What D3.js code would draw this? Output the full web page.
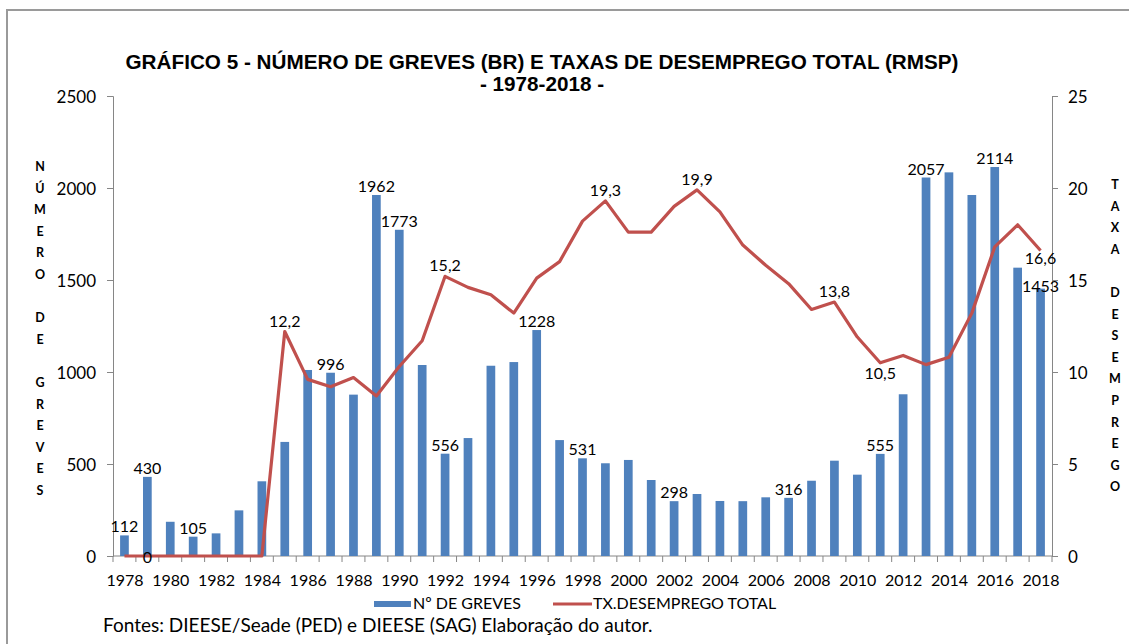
<!DOCTYPE html>
<meta charset="utf-8">
<head>
  <script src="https://d3js.org/d3.v7.min.js"></script>
</head>
<style>

body {
  margin: 0;
  background: #fff;
}

.axis text {
  font-family: Lato, sans-serif;
  font-size: 16px;
  fill: #000;
}

.axis--left text,
.axis--right text {
  font-size: 17px;
}

.axis path,
.axis line {
  stroke: #868686;
}

.data-label {
  font-family: Lato, sans-serif;
  font-size: 16px;
  fill: #000;
  text-anchor: middle;
}

.chart-title {
  font-family: "Liberation Sans", Arial, sans-serif;
  font-weight: bold;
  font-size: 20.7px;
  text-anchor: middle;
}

.side-letter {
  font-family: Lato, sans-serif;
  font-weight: bold;
  font-size: 12.5px;
  text-anchor: middle;
}

.legend-text {
  font-family: Lato, sans-serif;
  font-size: 16px;
}

.footer {
  font-family: Lato, sans-serif;
  font-size: 19px;
}

</style>

<body>
<svg width="1129" height="644" id="container"></svg>
<script>

var years = [1978, 1979, 1980, 1981, 1982, 1983, 1984, 1985, 1986, 1987,
             1988, 1989, 1990, 1991, 1992, 1993, 1994, 1995, 1996, 1997,
             1998, 1999, 2000, 2001, 2002, 2003, 2004, 2005, 2006, 2007,
             2008, 2009, 2010, 2011, 2012, 2013, 2014, 2015, 2016, 2017, 2018];

// número de greves (BR)
var greves = [112, 430, 186, 105, 123, 248, 406, 620, 1011, 996,
              877, 1962, 1773, 1038, 556, 641, 1034, 1054, 1228, 630,
              531, 504, 522, 413, 298, 337, 299, 298, 319, 316,
              409, 518, 442, 555, 879, 2057, 2085, 1962, 2114, 1567, 1453];

// taxa de desemprego total (RMSP)
var desemprego = [0, 0, 0, 0, 0, 0, 0, 12.2, 9.6, 9.2,
                  9.7, 8.7, 10.3, 11.7, 15.2, 14.6, 14.2, 13.2, 15.1, 16.0,
                  18.2, 19.3, 17.6, 17.6, 19.0, 19.9, 18.7, 16.9, 15.8, 14.8,
                  13.4, 13.8, 11.9, 10.5, 10.9, 10.4, 10.8, 13.2, 16.8, 18.0, 16.6];

var xTickYears = [1978, 1980, 1982, 1984, 1986, 1988, 1990, 1992, 1994, 1996, 1998,
                  2000, 2002, 2004, 2006, 2008, 2010, 2012, 2014, 2016, 2018];
var leftTicks = [0, 500, 1000, 1500, 2000, 2500];
var rightTicks = [0, 5, 10, 15, 20, 25];

var barLabelYears = [1978, 1979, 1981, 1987, 1989, 1990, 1992, 1996, 1998,
                     2002, 2007, 2011, 2013, 2016, 2018];
var lineLabelsAbove = [1985, 1992, 1999, 2003, 2009];
var lineLabelsBelow = [2011, 2018];
var lineLabelsOn = [1979];

var titleLines = ["GRÁFICO 5 - NÚMERO DE GREVES (BR) E TAXAS DE DESEMPREGO TOTAL (RMSP)",
                  "- 1978-2018 -"];
var leftAxisTitle = "NÚMERO DE GREVES";
var rightAxisTitle = "TAXA DESEMPREGO";
var legendLabels = ["Nº DE GREVES", "TX.DESEMPREGO TOTAL"];
var footerText = "Fontes: DIEESE/Seade (PED) e DIEESE (SAG) Elaboração do autor.";

var svg = d3.select('#container');

var plot = {left: 113, right: 1052, top: 96, bottom: 556};

var data = years.map(function(y, i) {
  return {year: y, greves: greves[i], taxa: desemprego[i]};
});

// bars sit in the middle of each category, ticks go between categories
var xBar = d3.scaleBand()
             .domain(years)
             .range([plot.left, plot.right])
             .paddingInner(0.62)
             .paddingOuter(0.31);
var xEdge = d3.scaleBand()
              .domain(years)
              .range([plot.left, plot.right]);
var xCenter = function(y) { return xEdge(y) + xEdge.bandwidth() / 2; };

var yLeft = d3.scaleLinear().domain([0, 2500]).range([plot.bottom, plot.top]);
var yRight = d3.scaleLinear().domain([0, 25]).range([plot.bottom, plot.top]);

// outer frame
svg.append('path')
   .attr('d', 'M7,644 V10 H1129')
   .attr('fill', 'none')
   .attr('stroke', '#9a9a9a')
   .attr('stroke-width', 2);

// title
svg.selectAll('.chart-title')
   .data(titleLines)
   .enter()
   .append('text')
   .attr('class', 'chart-title')
   .attr('x', 542)
   .attr('y', function(d, i) { return 69 + i * 22; })
   .text(function(d) { return d; });

// axes
svg.append('g')
   .attr('class', 'axis axis--left')
   .attr('transform', 'translate(' + plot.left + ',0)')
   .call(d3.axisLeft(yLeft).tickValues(leftTicks).tickFormat(d3.format('d'))
           .tickSize(6).tickPadding(11));

svg.append('g')
   .attr('class', 'axis axis--right')
   .attr('transform', 'translate(' + plot.right + ',0)')
   .call(d3.axisRight(yRight).tickValues(rightTicks).tickSize(6).tickPadding(10));

svg.selectAll('.axis--left text, .axis--right text').attr('dy', '0.36em');

// x axis line and the category ticks
var xAxis = svg.append('g').attr('class', 'axis axis--x');
xAxis.append('line')
     .attr('x1', plot.left)
     .attr('x2', plot.right)
     .attr('y1', plot.bottom)
     .attr('y2', plot.bottom);
xAxis.selectAll('.cat-tick')
     .data(years.concat(['end']))
     .enter()
     .append('line')
     .attr('class', 'cat-tick')
     .attr('x1', function(d) { return d === 'end' ? plot.right : xEdge(d); })
     .attr('x2', function(d) { return d === 'end' ? plot.right : xEdge(d); })
     .attr('y1', plot.bottom)
     .attr('y2', plot.bottom + 6);

svg.append('g')
   .attr('class', 'axis axis--xlabels')
   .attr('transform', 'translate(0,' + plot.bottom + ')')
   .call(d3.axisBottom(d3.scalePoint().domain(years).range([xCenter(1978), xCenter(2018)]))
           .tickValues(xTickYears).tickSize(0).tickPadding(19))
   .select('.domain').remove();

// bars
svg.selectAll('.bar')
   .data(data)
   .enter()
   .append('rect')
   .attr('class', 'bar')
   .attr('x', function(d) { return xBar(d.year); })
   .attr('width', xBar.bandwidth())
   .attr('y', function(d) { return yLeft(d.greves); })
   .attr('height', function(d) { return plot.bottom - yLeft(d.greves); })
   .attr('fill', '#4f81bd');

// unemployment line
var line = d3.line()
             .x(function(d) { return xCenter(d.year); })
             .y(function(d) { return yRight(d.taxa); });

svg.append('path')
   .datum(data)
   .attr('d', line)
   .attr('fill', 'none')
   .attr('stroke', '#c0504d')
   .attr('stroke-width', 3.2)
   .attr('stroke-linejoin', 'round');

// bar labels
var barNudge = {2018: 6};
svg.selectAll('.bar-label')
   .data(data.filter(function(d) { return barLabelYears.indexOf(d.year) > -1; }))
   .enter()
   .append('text')
   .attr('class', 'data-label bar-label')
   .attr('x', function(d) { return xCenter(d.year); })
   .attr('y', function(d) { return yLeft(d.greves) - 3 + (barNudge[d.year] || 0); })
   .text(function(d) { return d.greves; });

// line labels
var fmt = function(v) { return String(v).replace('.', ','); };
function lineLabelOffset(year) {
  if (lineLabelsAbove.indexOf(year) > -1) return -5;
  if (lineLabelsOn.indexOf(year) > -1) return 7;
  return year === 2018 ? 13 : 16;
}
svg.selectAll('.line-label')
   .data(data.filter(function(d) {
     return lineLabelsAbove.concat(lineLabelsBelow, lineLabelsOn).indexOf(d.year) > -1;
   }))
   .enter()
   .append('text')
   .attr('class', 'data-label line-label')
   .attr('x', function(d) { return xCenter(d.year); })
   .attr('y', function(d) { return yRight(d.taxa) + lineLabelOffset(d.year); })
   .text(function(d) { return fmt(d.taxa); });

// stacked side titles
function sideTitle(text, x, yStart) {
  svg.append('g')
     .selectAll('text')
     .data(text.split(''))
     .enter()
     .append('text')
     .attr('class', 'side-letter')
     .attr('x', x)
     .attr('y', function(d, i) { return yStart + i * 21.6; })
     .text(function(d) { return d; });
}
sideTitle(leftAxisTitle, 40, 171);
sideTitle(rightAxisTitle, 1115, 189);

// legend
var legend = svg.append('g').attr('class', 'legend');
legend.append('rect')
      .attr('x', 374).attr('y', 601)
      .attr('width', 37).attr('height', 6)
      .attr('fill', '#4f81bd');
legend.append('text')
      .attr('class', 'legend-text')
      .attr('x', 413).attr('y', 609)
      .text(legendLabels[0]);
legend.append('line')
      .attr('x1', 553).attr('x2', 592)
      .attr('y1', 604).attr('y2', 604)
      .attr('stroke', '#c0504d')
      .attr('stroke-width', 3);
legend.append('text')
      .attr('class', 'legend-text')
      .attr('x', 593).attr('y', 609)
      .text(legendLabels[1]);

svg.append('text')
   .attr('class', 'footer')
   .attr('x', 103)
   .attr('y', 632)
   .text(footerText);

</script>
</body>
